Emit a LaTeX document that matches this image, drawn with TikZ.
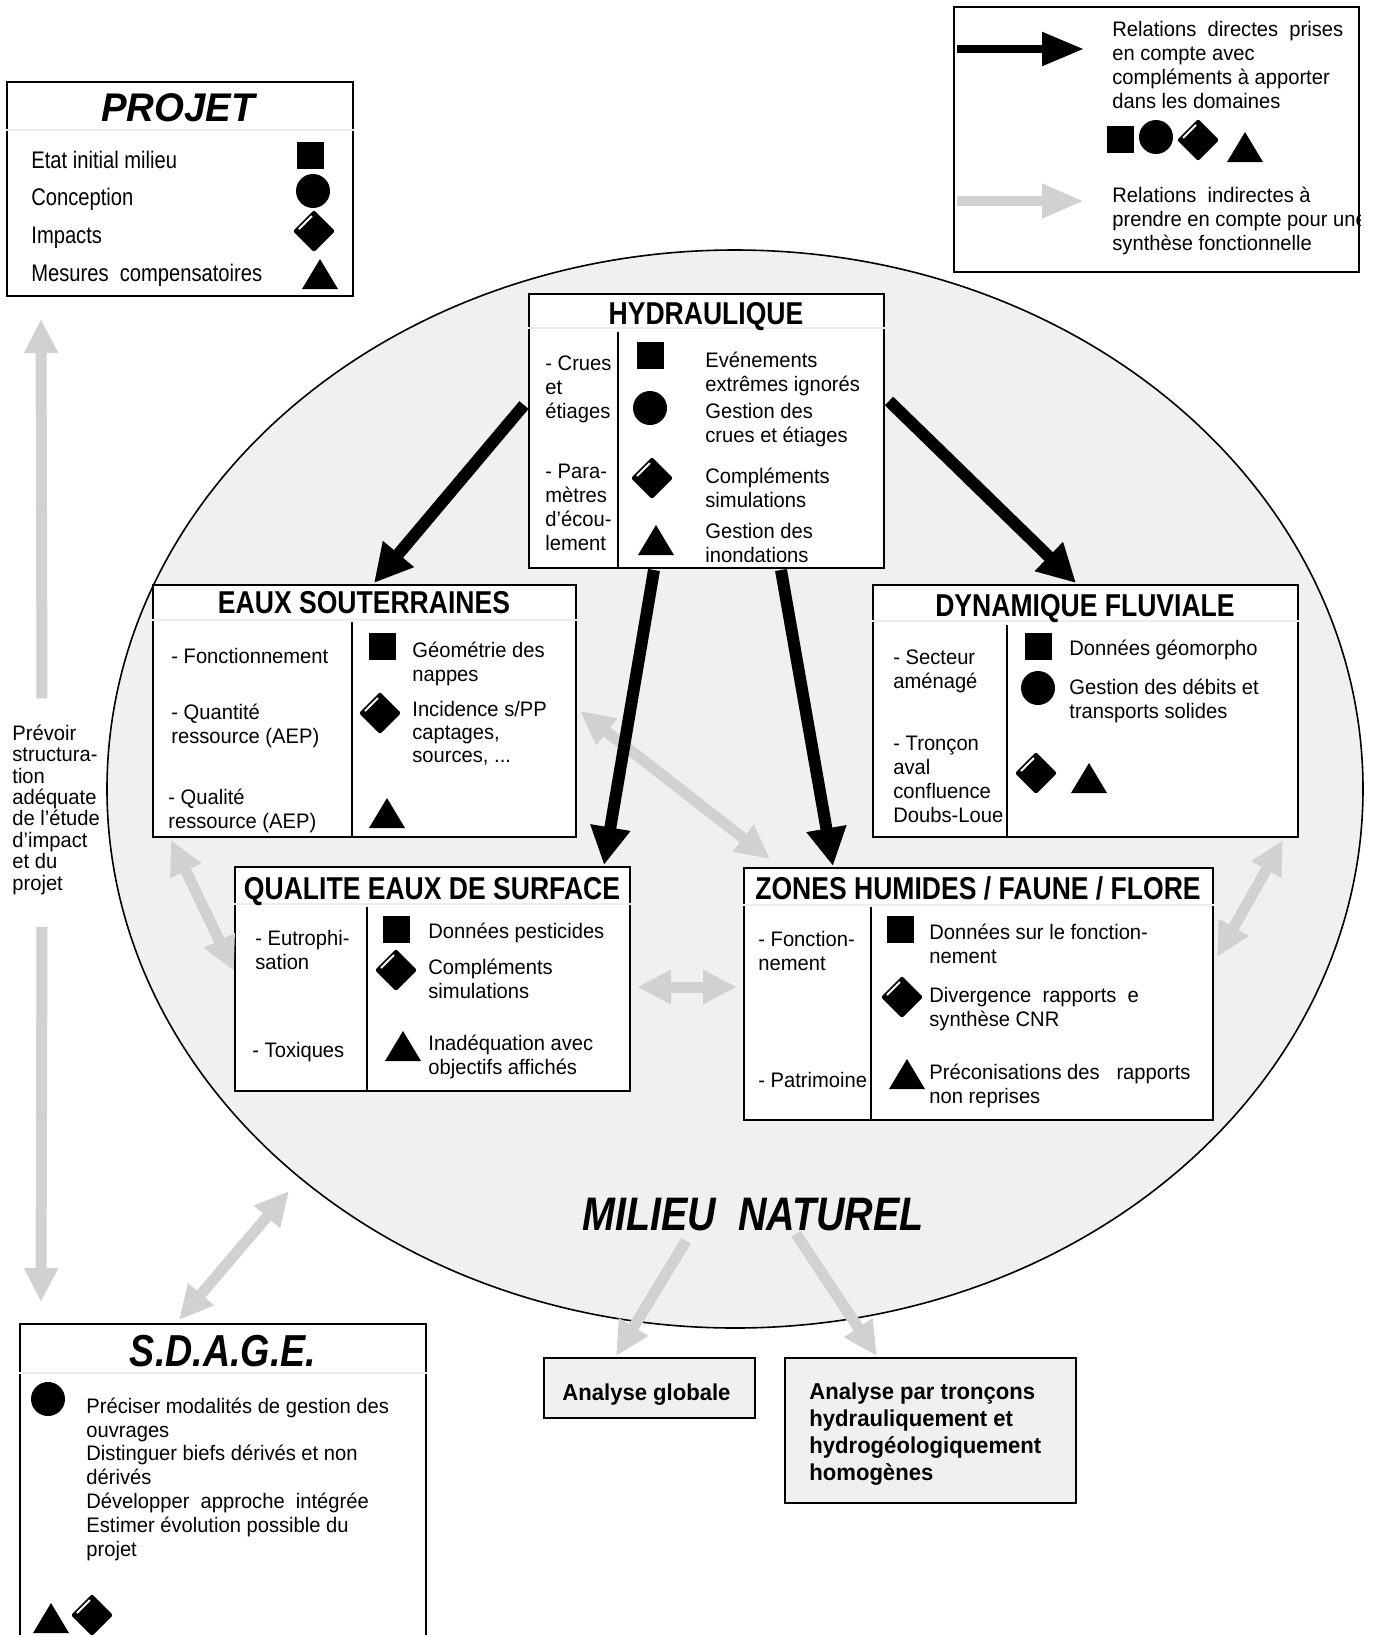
\documentclass[tikz,border=0pt]{standalone}
\usepackage{fontspec}
\setmainfont[FakeStretch=0.96]{Liberation Sans}
\newfontfamily\narrowfont[FakeStretch=0.84]{Liberation Sans}
\usetikzlibrary{positioning,arrows.meta,fit,calc}

\begin{document}
\begin{tikzpicture}[
    x=0.5pt, y=-0.5pt,
    panel/.style={draw, line width=1pt, fill=white, inner sep=0pt},
    greybox/.style={draw, line width=1pt, fill=black!6, inner sep=0pt},
    txt/.style={anchor=base west, align=left, inner sep=0pt,
                font=\fontsize{10.5}{12}\selectfont},
    ttl/.style={anchor=base, inner sep=0pt,
                font=\narrowfont\bfseries\fontsize{15.8}{16}\selectfont},
    divider/.style={line width=1pt},
    faint/.style={black!7, line width=0.6pt},
    direct/.style={line width=6pt, -{Triangle[length=19pt, width=19pt]}},
    indirect/.style={line width=5.5pt, draw=black!18,
                     -{Triangle[length=17pt, width=16pt]}},
    both/.style={indirect,
                 {Triangle[length=17pt, width=16pt]}-{Triangle[length=17pt, width=16pt]}},
    sqmark/.pic={\fill (-13.5,-13.5) rectangle (13.5,13.5);},
    dotmark/.pic={\fill (0,0) circle[radius=8.5pt];},
    diamark/.pic={\fill[rounded corners=1pt] (-21,0) -- (0,-21) -- (21,0) -- (0,21) -- cycle;
                  \draw[white, line width=0.9pt] (-15,-2) -- (-2,-15);},
    trimark/.pic={\fill (-18,15) -- (18,15) -- (0,-15) -- cycle;},
  ]
  \useasboundingbox (0,0) rectangle (1377,1635);

  % milieu naturel
  \draw[line width=0.8pt, fill=black!6] (735,789) ellipse [x radius=314pt, y radius=269.5pt];

  % boxes
  \node[panel, fit={(7,82) (353,296)}] (projet) {};
  \node[panel, fit={(954,7) (1359,272)}] (legend) {};
  \node[panel, fit={(529,294) (884,568)}] (hyd) {};
  \node[panel, fit={(153,585) (576,837)}] (eaux) {};
  \node[panel, fit={(873,585) (1298,837)}] (dyn) {};
  \node[panel, fit={(235,867) (630,1091)}] (qual) {};
  \node[panel, fit={(744,868) (1213,1120)}] (zones) {};
  \node[panel, fit={(20,1324) (426,1650)}] (sdage) {};
  \node[greybox, fit={(544,1358) (755,1418)}] (glob) {};
  \node[greybox, fit={(785,1358) (1076,1503)}] (tron) {};

  % title rules and column rules
  \draw[faint] (projet.west |- 0,130) -- (projet.east |- 0,130);
  \draw[faint] (hyd.west |- 0,328) -- (hyd.east |- 0,328);
  \draw[faint] (eaux.west |- 0,620) -- (eaux.east |- 0,620);
  \draw[faint] (dyn.west |- 0,621) -- (dyn.east |- 0,621);
  \draw[faint] (qual.west |- 0,904) -- (qual.east |- 0,904);
  \draw[faint] (zones.west |- 0,905) -- (zones.east |- 0,905);
  \draw[faint] (sdage.west |- 0,1373) -- (sdage.east |- 0,1373);
  \draw[divider] (618,332) -- (618,0 |- hyd.south);
  \draw[divider] (352,622) -- (352,0 |- eaux.south);
  \draw[divider] (1007,625) -- (1007,0 |- dyn.south);
  \draw[divider] (367,907) -- (367,0 |- qual.south);
  \draw[divider] (871,907) -- (871,0 |- zones.south);

  % legend
  \draw[line width=4.2pt, -{Triangle[length=21pt, width=16pt]}]
    ($(legend.north west)+(4,43)$) -- ($(legend.north west)+(131,43)$);
  \draw[indirect, line width=5pt, -{Triangle[length=21pt, width=16pt]}]
    ($(legend.north west)+(4,195)$) -- ($(legend.north west)+(131,195)$);
  \node[txt] (legtxtA) at (1112,108) {Relations\ \ directes\ \ prises\\en compte avec\\compléments à apporter\\dans les domaines};
  \begin{scope}
    \clip (legend.north west) rectangle (legend.south east);
    \node[txt] (legtxtB) at (1112,250) {Relations\ \ indirectes à\\prendre en compte pour une\\synthèse fonctionnelle};
  \end{scope}
  \pic at (1120,139) {sqmark};
  \pic at (1156,137) {dotmark};
  \pic at (1198,140) {diamark};
  \pic at (1245,147) {trimark};

  % projet
  \node[anchor=base, inner sep=0pt, font=\bfseries\itshape\fontsize{20}{20}\selectfont] (projttl) at (178,121) {PROJET};
  \node[txt, font=\narrowfont\fontsize{12}{18.8}\selectfont] (projlist) at (31,281) {Etat initial milieu\\Conception\\Impacts\\Mesures\ \ compensatoires};
  \pic at (310,155) {sqmark};
  \pic at (313,191) {dotmark};
  \pic at (314,231) {diamark};
  \pic at (320,274) {trimark};

  % hydraulique
  \node[ttl] (hydttl) at (706,324) {HYDRAULIQUE};
  \node[txt] (hydA) at (545,418) {- Crues\\et\\étiages};
  \node[txt] (hydB) at (545,550) {- Para-\\mètres\\d’écou-\\lement};
  \node[txt] (hydC) at (705,391) {Evénements\\extrêmes ignorés};
  \node[txt] (hydD) at (705,442) {Gestion des\\crues et étiages};
  \node[txt] (hydE) at (705,507) {Compléments\\simulations};
  \node[txt] (hydF) at (705,562) {Gestion des\\inondations};
  \pic at (650,355) {sqmark};
  \pic at (650,408) {dotmark};
  \pic at (652,478) {diamark};
  \pic at (656,540) {trimark};

  % eaux souterraines
  \node[ttl] (eauxttl) at (364,613) {EAUX SOUTERRAINES};
  \node[txt] (eauxA) at (171,663) {- Fonctionnement};
  \node[txt] (eauxB) at (171,743) {- Quantité\\ressource (AEP)};
  \node[txt] (eauxC) at (168,828) {- Qualité\\ressource (AEP)};
  \node[txt] (eauxD) at (412,681) {Géométrie des\\nappes};
  \node[txt, font=\fontsize{10.5}{11.3}\selectfont] (eauxE) at (412,762) {Incidence s/PP\\captages,\\sources, ...};
  \pic at (382,646) {sqmark};
  \pic at (380,713) {diamark};
  \pic at (387,813) {trimark};

  % dynamique fluviale
  \node[ttl] (dynttl) at (1085,616) {DYNAMIQUE FLUVIALE};
  \node[txt] (dynA) at (893,688) {- Secteur\\aménagé};
  \node[txt] (dynB) at (893,822) {- Tronçon\\aval\\confluence\\Doubs-Loue};
  \node[txt] (dynC) at (1069,655) {Données géomorpho};
  \node[txt] (dynD) at (1069,718) {Gestion des débits et\\transports solides};
  \pic at (1038,646) {sqmark};
  \pic at (1038,688) {dotmark};
  \pic at (1036,773) {diamark};
  \pic at (1089,778) {trimark};

  % qualite eaux de surface
  \node[ttl] (qualttl) at (432,899) {QUALITE EAUX DE SURFACE};
  \node[txt] (qualA) at (255,969) {- Eutrophi-\\sation};
  \node[txt] (qualB) at (252,1057) {- Toxiques};
  \node[txt] (qualC) at (428,938) {Données pesticides};
  \node[txt] (qualD) at (428,998) {Compléments\\simulations};
  \node[txt] (qualE) at (428,1074) {Inadéquation avec\\objectifs affichés};
  \pic at (396,929) {sqmark};
  \pic at (396,970) {diamark};
  \pic at (403,1046) {trimark};

  % zones humides
  \node[ttl] (zonesttl) at (978,899) {ZONES HUMIDES / FAUNE / FLORE};
  \node[txt] (zonesA) at (758,970) {- Fonction-\\nement};
  \node[txt] (zonesB) at (758,1087) {- Patrimoine};
  \node[txt] (zonesC) at (929,963) {Données sur le fonction-\\nement};
  \node[txt] (zonesD) at (929,1026) {Divergence\ \ rapports\ \ e\\synthèse CNR};
  \node[txt] (zonesE) at (929,1103) {Préconisations des\ \ \ rapports\\non reprises};
  \pic at (900,929) {sqmark};
  \pic at (902,997) {diamark};
  \pic at (907,1074) {trimark};

  % sdage
  \node[anchor=base, inner sep=0pt, font=\narrowfont\bfseries\itshape\fontsize{22.4}{23}\selectfont] (sdagettl) at (223,1366) {S.D.A.G.E.};
  \node[txt, font=\fontsize{10.5}{11.9}\selectfont] (sdagetxt) at (86,1556) {Préciser modalités de gestion des\\ouvrages\\Distinguer biefs dérivés et non\\dérivés\\Développer\ \ approche\ \ intégrée\\Estimer évolution possible du\\projet};
  \pic at (48,1399) {dotmark};
  \pic at (51,1618) {trimark};
  \pic at (92,1615) {diamark};

  % analyses
  \node[txt, font=\bfseries\fontsize{11.5}{13.5}\selectfont] (globtxt) at (562,1400) {Analyse globale};
  \node[txt, font=\bfseries\fontsize{11.5}{13.5}\selectfont] (trontxt) at (809,1480) {Analyse par tronçons\\hydrauliquement et\\hydrogéologiquement\\homogènes};
  \node[anchor=base, inner sep=0pt, font=\narrowfont\bfseries\itshape\fontsize{23.5}{24}\selectfont] (naturel) at (753,1230) {MILIEU\ \ NATUREL};

  % left column
  \node[txt, font=\fontsize{10.5}{10.7}\selectfont] (prevoir) at (12,890) {Prévoir\\structura-\\tion\\adéquate\\de l’étude\\d’impact\\et du\\projet};

  % relations indirectes
  \draw[indirect] ($(prevoir.north west)+(30,-26)$) -- ($(projet.south west)+(35,22)$);
  \draw[indirect] ($(prevoir.south west)+(30,32)$) -- ($(sdage.north west)+(22,-21)$);
  \draw[both] ($(eaux.north east)+(3,127)$) -- ($(zones.north west)+(27,-8)$);
  \draw[both] ($(qual.north east)+(6,121)$) -- ($(zones.north west)+(-6,120)$);
  \draw[both] ($(eaux.south west)+(19,2)$) -- ($(qual.north west)+(0,105)$);
  \draw[both] ($(dyn.south east)+(-16,2)$) -- ($(zones.north east)+(3,90)$);
  \draw[both] ($(sdage.north west)+(160,-3)$) -- ($(sdage.north west)+(270,-132)$);
  \draw[indirect] ($(naturel.south)+(-67,10)$) -- ($(glob.north west)+(73,-1)$);
  \draw[indirect] ($(naturel.south)+(43,3)$) -- ($(tron.north west)+(93,-1)$);

  % relations directes
  \draw[direct] ($(hyd.north west)+(-4,112)$) -- ($(eaux.north west)+(222,-1)$);
  \draw[direct] ($(hyd.north east)+(4,108)$) -- ($(dyn.north west)+(204,-1)$);
  \draw[direct] ($(hyd.south west)+(126,1)$) -- ($(qual.north west)+(370,-1)$);
  \draw[direct] ($(hyd.south west)+(253,1)$) -- ($(zones.north west)+(90,-1)$);
\end{tikzpicture}
\end{document}
